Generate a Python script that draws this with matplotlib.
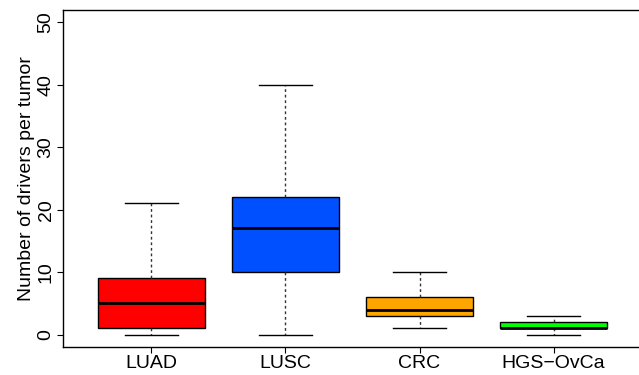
import matplotlib
matplotlib.use("Agg")
import matplotlib.pyplot as plt

plt.rcParams['font.family'] = ['Liberation Sans', 'DejaVu Sans']

categories = ["LUAD", "LUSC", "CRC", "HGS\u2212OvCa"]
whisker_low = [0, 0, 1, 0]
q1 = [1, 10, 3, 1]
medians = [5, 17, 4, 1]
q3 = [9, 22, 6, 2]
whisker_high = [21, 40, 10, 3]
colors = ["#FF0000", "#0050FF", "#FFA500", "#00FF00"]
yticks = [0, 10, 20, 30, 40, 50]

fig = plt.figure(figsize=(6.39, 3.75), dpi=100)
ax = fig.add_axes([63 / 639, 28 / 375, (642 - 63) / 639, (347 - 10) / 375])

stats = []
for i, name in enumerate(categories):
    stats.append(dict(label=name, whislo=whisker_low[i], q1=q1[i], med=medians[i],
                      q3=q3[i], whishi=whisker_high[i], fliers=[]))

positions = list(range(1, len(categories) + 1))
bp = ax.bxp(stats, positions=positions, widths=0.8, patch_artist=True,
            showfliers=False,
            boxprops=dict(edgecolor="black", linewidth=1.0),
            medianprops=dict(color="black", linewidth=2.0, solid_capstyle="butt"),
            whiskerprops=dict(color="#333333", linestyle=(0, (2, 2)), linewidth=1.0),
            capprops=dict(color="black", linewidth=1.0), capwidths=0.4)
for patch, c in zip(bp["boxes"], colors):
    patch.set_facecolor(c)

fs = 14
ax.set_xlim(0.34, 4.66)
ax.set_ylim(-2, 52)
ax.set_yticks(yticks)
ax.set_yticklabels([str(v) for v in yticks], rotation=90, va="center", fontsize=fs)
ax.set_xticks(positions)
ax.set_xticklabels(categories, fontsize=fs)
ax.tick_params(direction="out", length=4.5, width=0.8, pad=1.5)
ax.set_ylabel("Number of drivers per tumor", fontsize=fs, labelpad=2)

for s in ["left", "bottom", "top"]:
    ax.spines[s].set_linewidth(1.0)
ax.spines["right"].set_visible(False)

fig.savefig("out.png", dpi=100)
